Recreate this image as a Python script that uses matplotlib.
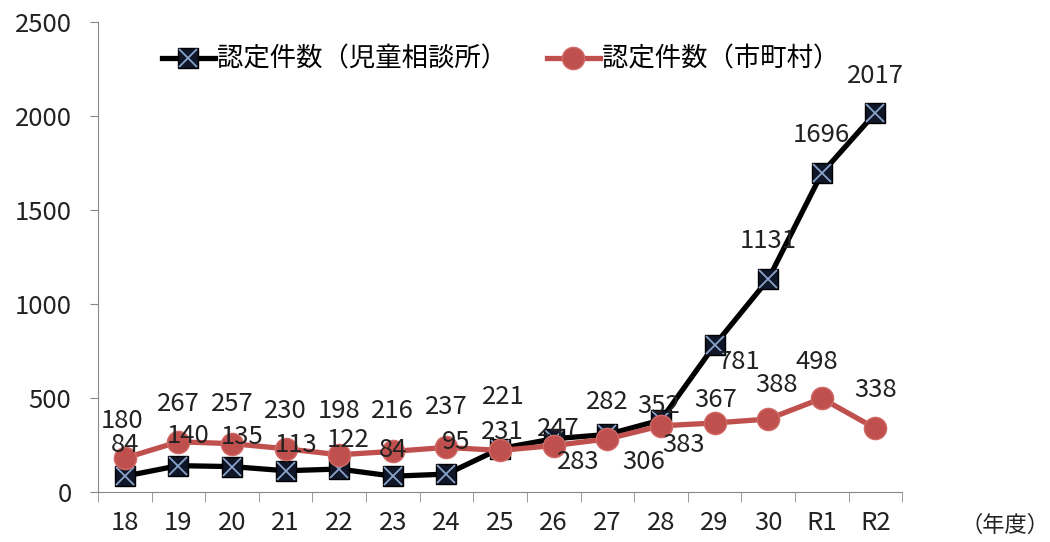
import matplotlib.pyplot as plt
from matplotlib.legend_handler import HandlerTuple

plt.rcParams['font.family'] = ['Noto Sans CJK JP', 'DejaVu Sans']

years = ["18", "19", "20", "21", "22", "23", "24", "25", "26", "27", "28", "29", "30", "R1", "R2"]
jidou = [84, 140, 135, 113, 122, 84, 95, 231, 283, 306, 383, 781, 1131, 1696, 2017]
shichoson = [180, 267, 257, 230, 198, 216, 237, 221, 247, 282, 352, 367, 388, 498, 338]

# label offsets in pixels (as placed in the source chart)
jidou_off = [(0, 31), (10, 30), (10, 30), (10, 26), (9, 29), (0, 26), (10, 32), (2, 17),
             (25, -23), (36, -28), (23, -25), (24, -17), (0, 38), (0, 38), (0, 37)]
shi_off = [(-3, 37), (0, 38), (0, 40), (0, 38), (0, 44), (0, 40), (0, 40), (3, 53),
           (5, 17), (0, 37), (-2, 20), (1, 23), (8, 34), (-5, 36), (0, 38)]

fig = plt.figure(figsize=(10.5, 5.42), dpi=100)
ax = fig.add_axes([0.0933, 0.0923, 0.766, 0.867])

x = list(range(len(years)))
navy = "#0f1628"
red = "#c0504d"
txt = "#222222"
fs = 18.5

l1, = ax.plot(x, jidou, color="black", lw=3.8, marker="s", ms=15,
              mfc=navy, mec="black", mew=1, zorder=3)
m1, = ax.plot(x, jidou, ls="none", marker="x", ms=13, mew=1.3,
              color="#8aa2c8", zorder=4)
l2, = ax.plot(x, shichoson, color=red, lw=3.8, marker="o", ms=16,
              mfc=red, mec="#d06a66", zorder=5)

for i in x:
    ax.annotate(str(jidou[i]), (i, jidou[i]), xytext=jidou_off[i],
                textcoords="offset pixels", ha="center", va="center",
                fontsize=fs, color=txt, zorder=6)
    ax.annotate(str(shichoson[i]), (i, shichoson[i]), xytext=shi_off[i],
                textcoords="offset pixels", ha="center", va="center",
                fontsize=fs, color=txt, zorder=6)

ax.set_xlim(-0.5, len(years) - 0.5)
ax.set_ylim(0, 2500)
ax.set_yticks([0, 500, 1000, 1500, 2000, 2500])
ax.set_xticks(x)
ax.set_xticklabels(years)
ax.set_xticks([i - 0.5 for i in range(len(years) + 1)], minor=True)
ax.tick_params(axis="x", which="major", length=0, pad=13, labelsize=fs, colors=txt)
ax.tick_params(axis="x", which="minor", length=7, color="#888888", direction="out")
ax.tick_params(axis="y", length=6, color="#888888", pad=13, labelsize=fs, labelcolor=txt)

for s in ["top", "right"]:
    ax.spines[s].set_visible(False)
ax.spines["left"].set_color("#888888")
ax.spines["bottom"].set_color("#888888")

ax.legend([(l1, m1), l2], ["認定件数（児童相談所）", "認定件数（市町村）"],
          handler_map={tuple: HandlerTuple(ndivide=1)},
          loc="upper left", bbox_to_anchor=(0.05, 1.0), ncol=2, frameon=False,
          fontsize=19, handlelength=2.0, handletextpad=0.1, columnspacing=1.5)

fig.text(0.957, 0.031, "（年度）", ha="center", va="center", fontsize=16, color=txt)

fig.savefig("out.png", dpi=100)
